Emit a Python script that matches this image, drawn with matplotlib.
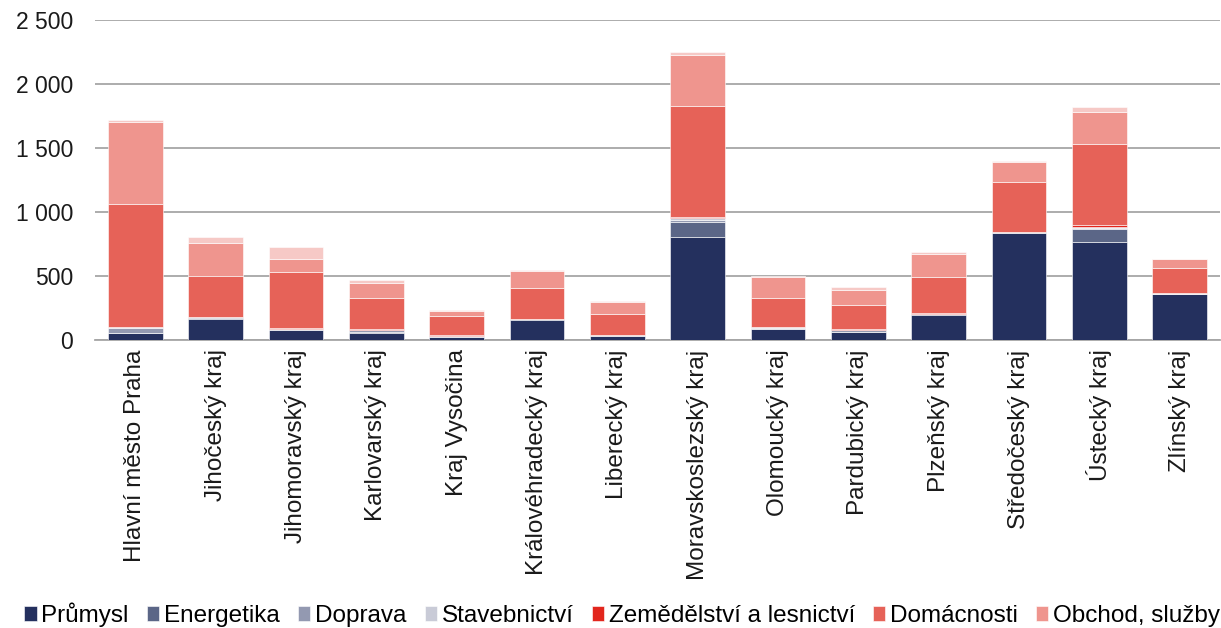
import matplotlib
matplotlib.use("Agg")
import matplotlib.pyplot as plt
import numpy as np
from matplotlib.ticker import FuncFormatter

plt.rcParams['font.family'] = ['Liberation Sans', 'DejaVu Sans']

kraje = ["Hlavní město Praha", "Jihočeský kraj", "Jihomoravský kraj", "Karlovarský kraj",
         "Kraj Vysočina", "Královéhradecký kraj", "Liberecký kraj", "Moravskoslezský kraj",
         "Olomoucký kraj", "Pardubický kraj", "Plzeňský kraj", "Středočeský kraj",
         "Ústecký kraj", "Zlínský kraj"]

prumysl      = [50, 165, 78, 55, 20, 157, 30, 802, 84, 60, 196, 836, 766, 357]
energetika   = [5, 3, 2, 5, 3, 2, 2, 118, 3, 3, 2, 2, 97, 2]
doprava      = [35, 8, 3, 15, 8, 3, 2, 18, 8, 12, 2, 4, 12, 2]
stavebnictvi = [8, 2, 2, 3, 2, 2, 1, 12, 1, 3, 1, 1, 8, 1]
zemedelstvi  = [2, 2, 5, 3, 8, 2, 2, 12, 3, 7, 10, 2, 13, 2]
domacnosti   = [965, 318, 437, 245, 143, 237, 163, 865, 230, 190, 282, 392, 637, 196]
obchod       = [640, 257, 107, 117, 44, 133, 99, 397, 163, 112, 180, 152, 248, 71]
ostatni      = [15, 47, 90, 28, 8, 10, 3, 24, 3, 29, 12, 8, 37, 4]

serie = [
    ("Průmysl", prumysl, "#24305E"),
    ("Energetika", energetika, "#5B6687"),
    ("Doprava", doprava, "#9399B1"),
    ("Stavebnictví", stavebnictvi, "#C9CBD7"),
    ("Zemědělství a lesnictví", zemedelstvi, "#E2261D"),
    ("Domácnosti", domacnosti, "#E66258"),
    ("Obchod, služby", obchod, "#EF958E"),
    (None, ostatni, "#F6C9C6"),
]

fig = plt.figure(figsize=(12.21, 6.28), dpi=100)
ax = fig.add_axes([0.078, 0.459, 0.921, 0.509])

x = np.arange(len(kraje))
bottom = np.zeros(len(kraje))
handles = []
for name, vals, col in serie:
    b = ax.bar(x, vals, 0.68, bottom=bottom, color=col, edgecolor="white", linewidth=0.4,
               label=name, zorder=3)
    if name:
        handles.append(b)
    bottom += np.array(vals)

ax.set_ylim(0, 2500)
ax.set_xlim(-0.5, len(kraje) - 0.5)
ax.set_yticks(np.arange(0, 2501, 500))
ax.yaxis.set_major_formatter(FuncFormatter(lambda v, p: f"{int(v):,}".replace(",", " ")))
ax.grid(axis="y", color="#A6A6A6", linewidth=1.3, zorder=0)
for s in ["top", "right", "left"]:
    ax.spines[s].set_visible(False)
ax.spines["bottom"].set_color("#A6A6A6")
ax.spines["bottom"].set_linewidth(1.3)
ax.tick_params(axis="both", length=0, colors="#1a1a1a")
ax.tick_params(axis="y", pad=16, labelsize=16.5)
ax.tick_params(axis="x", pad=7)
ax.set_xticks(x)
ax.set_xticklabels(kraje, rotation=90, fontsize=17.5)

fig.legend(handles=handles, loc="lower left", bbox_to_anchor=(0.012, -0.014), ncol=7,
           frameon=False, fontsize=17.5, handlelength=0.5, handleheight=0.6,
           handletextpad=0.2, columnspacing=0.75, borderaxespad=0)

fig.savefig("out.png", dpi=100)
